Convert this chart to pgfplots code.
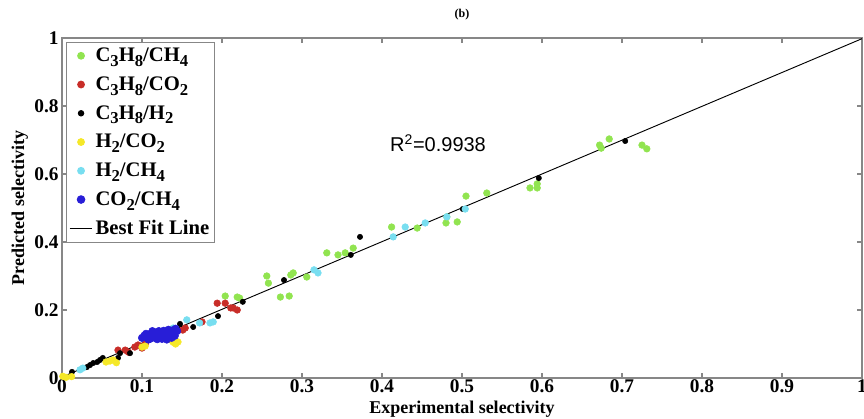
\documentclass[border=0pt]{standalone}
\usepackage{fontspec}
\setmainfont{Liberation Serif}
\newfontfamily\arialf{Liberation Sans}
\usepackage{pgfplots}
\pgfplotsset{compat=1.18}
\usetikzlibrary{calc}
\definecolor{cgreen}{RGB}{145,228,80}
\definecolor{cred}{RGB}{200,45,40}
\definecolor{cyel}{RGB}{245,232,40}
\definecolor{ccyan}{RGB}{120,222,240}
\definecolor{cblue}{RGB}{40,30,215}
\definecolor{caxis}{RGB}{135,135,135}
\newcommand{\sub}[1]{\raisebox{-0.5ex}{\fontsize{12.5}{12.5}\selectfont #1}}
\begin{document}
\begin{tikzpicture}
\begin{axis}[name=ax, scale only axis, width=600pt, height=255pt,
 xmin=0, xmax=1, ymin=0, ymax=1,
 xtick={0,0.1,0.2,0.3,0.4,0.5,0.6,0.7,0.8,0.9,1},
 ytick={0,0.2,0.4,0.6,0.8,1},
 tick align=inside, major tick length=4pt,
 axis line style={caxis, line width=1pt}, tick style={caxis, line width=0.8pt},
 /pgf/number format/assume math mode=true,
 ticklabel style={font=\bfseries\fontsize{14.5}{14.5}\selectfont, text=black},
 xticklabel style={yshift=2pt},
 yticklabel style={xshift=1pt},
 xlabel={Experimental selectivity}, ylabel={Predicted selectivity},
 label style={font=\bfseries\fontsize{13.5}{14}\selectfont},
 xlabel style={yshift=1pt},
 ylabel style={yshift=-2pt},
 title={(b)}, title style={font=\bfseries\fontsize{9}{10}\selectfont, yshift=4pt},
 legend style={at={(axis cs:0.005,0.988)}, anchor=north west, draw=caxis, line width=0.8pt,
   font=\bfseries\fontsize{15.5}{16}\selectfont, row sep=5.8pt, inner sep=2pt},
 legend cell align=left,
 every axis plot/.append style={only marks, mark=*, mark size=2.5pt},
]
\addplot[cgreen, mark options={draw=cgreen, fill=cgreen}] coordinates {
(0.204,0.241)(0.219,0.238)(0.222,0.235)(0.256,0.300)(0.258,0.279)(0.273,0.238)(0.284,0.241)
(0.286,0.303)(0.289,0.309)(0.306,0.297)(0.331,0.368)(0.345,0.362)(0.354,0.368)(0.364,0.382)
(0.412,0.444)(0.444,0.441)(0.480,0.456)(0.494,0.459)(0.481,0.474)(0.505,0.535)(0.531,0.544)
(0.585,0.559)(0.594,0.559)(0.594,0.571)(0.674,0.676)(0.684,0.703)(0.672,0.685)(0.725,0.685)(0.731,0.674)};
\addlegendentry{C\sub{3}H\sub{8}/CH\sub{4}}
\addplot[cred, mark options={draw=cred, fill=cred}] coordinates {
(0.070,0.082)(0.079,0.082)(0.083,0.076)(0.091,0.091)(0.095,0.097)(0.100,0.088)(0.104,0.100)
(0.140,0.130)(0.151,0.141)(0.154,0.147)(0.175,0.165)(0.194,0.220)(0.204,0.220)(0.211,0.206)
(0.214,0.206)(0.219,0.200)};
\addlegendentry{C\sub{3}H\sub{8}/CO\sub{2}}
\addplot[black, mark size=2pt, mark options={draw=black, fill=black}] coordinates {
(0.0125,0.018)(0.031,0.032)(0.035,0.038)(0.039,0.044)(0.044,0.047)(0.0475,0.053)(0.051,0.059)
(0.070,0.059)(0.0725,0.073)(0.085,0.073)(0.1475,0.159)(0.164,0.150)(0.195,0.182)(0.226,0.224)
(0.2775,0.288)(0.361,0.362)(0.3725,0.415)(0.414,0.415)(0.501,0.497)(0.596,0.588)(0.704,0.697)};
\addlegendentry{C\sub{3}H\sub{8}/H\sub{2}}
\addplot[cyel, mark options={draw=cyel, fill=cyel}] coordinates {
(0.001,0.005)(0.005,0.002)(0.012,0.004)(0.055,0.047)(0.060,0.050)(0.064,0.053)(0.068,0.045)
(0.100,0.091)(0.104,0.094)(0.136,0.112)(0.139,0.105)(0.145,0.106)(0.142,0.100)};
\addlegendentry{H\sub{2}/CO\sub{2}}
\addplot[ccyan, mark options={draw=ccyan, fill=ccyan}] coordinates {
(0.0225,0.024)(0.026,0.029)(0.139,0.147)(0.156,0.171)(0.172,0.162)(0.185,0.162)(0.189,0.165)
(0.315,0.318)(0.320,0.309)(0.414,0.415)(0.429,0.444)(0.454,0.456)(0.481,0.474)(0.504,0.497)};
\addlegendentry{H\sub{2}/CH\sub{4}}
\addplot[cblue, mark size=2.8pt, mark options={draw=cblue, fill=cblue}] coordinates {
(0.100,0.118)(0.103,0.125)(0.106,0.120)(0.108,0.128)(0.110,0.115)(0.112,0.122)(0.114,0.130)
(0.116,0.118)(0.118,0.125)(0.120,0.132)(0.122,0.120)(0.124,0.128)(0.126,0.122)(0.128,0.133)
(0.130,0.126)(0.132,0.120)(0.134,0.135)(0.136,0.128)(0.138,0.140)(0.140,0.133)(0.142,0.145)
(0.105,0.130)(0.115,0.135)(0.125,0.115)(0.135,0.122)(0.108,0.113)(0.113,0.138)(0.119,0.114)
(0.121,0.138)(0.127,0.139)(0.131,0.113)(0.133,0.142)(0.137,0.118)(0.141,0.124)(0.144,0.138)
(0.111,0.127)(0.117,0.122)(0.123,0.133)(0.129,0.119)(0.139,0.130)};
\addlegendentry{CO\sub{2}/CH\sub{4}}
\addplot[black, no marks, sharp plot, line width=0.7pt] coordinates {(0,0.003)(1,0.998)};
\addlegendentry{Best Fit Line}
\node[font=\arialf\fontsize{15}{15}\selectfont] at (axis cs:0.47,0.69) {R\textsuperscript{2}=0.9938};
\end{axis}
\pgfresetboundingbox
\path[use as bounding box] ($(ax.south west)+(-46.5pt,-30.75pt)$) rectangle ($(ax.north east)+(1.5pt,28.5pt)$);
\end{tikzpicture}
\end{document}
